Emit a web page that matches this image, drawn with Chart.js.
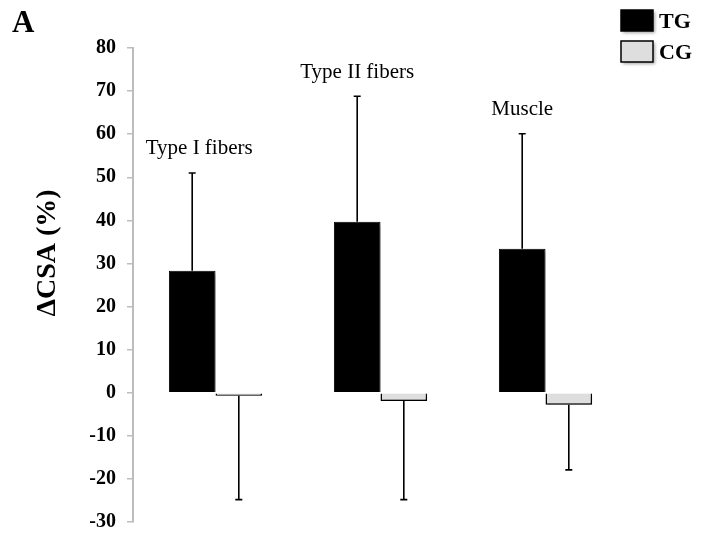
<!DOCTYPE html>
<html><head><meta charset="utf-8">
<script src="https://cdn.jsdelivr.net/npm/chart.js@4.4.1/dist/chart.umd.min.js"></script>
<style>html,body{margin:0;padding:0;background:#fff}#wrap{width:701px;height:542px}</style>
</head><body><div id="wrap"><canvas id="c" width="701" height="542"></canvas></div>
<script>
const categories = ['Type I fibers', 'Type II fibers', 'Muscle'];
const seriesNames = ['TG', 'CG'];
const tgValues = [28.3, 39.7, 33.4];
const cgValues = [-0.7, -1.9, -2.8];
const tgErrorTop = [51.0, 68.8, 60.1];
const cgErrorBottom = [-24.8, -24.8, -17.9];
const yMin = -30, yMax = 80, yStep = 10;
const panelLetter = 'A';
const yTitle = '\u0394CSA (%)';

const SERIF = '"Liberation Serif", "Times New Roman", serif';
const tgColor = '#000000';
const cgColor = '#dedede';
const labelShift = [8, 1, 1];

const decorPlugin = {
  id: 'decor',
  beforeDatasetsDraw(chart) {
    const ctx = chart.ctx;
    ctx.save();
    ctx.shadowColor = 'rgba(0,0,0,0.35)';
    ctx.shadowOffsetX = 2;
    ctx.shadowOffsetY = 2;
    ctx.shadowBlur = 3;
  },
  afterDatasetsDraw(chart) {
    const ctx = chart.ctx;
    ctx.restore();
    const y = chart.scales.y;
    const m0 = chart.getDatasetMeta(0).data;
    const m1 = chart.getDatasetMeta(1).data;
    ctx.save();
    ctx.strokeStyle = '#000';
    ctx.lineWidth = 1.6;
    const cap = 3.5;
    m0.forEach((bar, i) => {
      const yt = y.getPixelForValue(tgErrorTop[i]);
      ctx.beginPath();
      ctx.moveTo(bar.x, bar.y); ctx.lineTo(bar.x, yt);
      ctx.moveTo(bar.x - cap, yt); ctx.lineTo(bar.x + cap, yt);
      ctx.stroke();
    });
    m1.forEach((bar, i) => {
      const yb = y.getPixelForValue(cgErrorBottom[i]);
      ctx.beginPath();
      ctx.moveTo(bar.x, bar.y); ctx.lineTo(bar.x, yb);
      ctx.moveTo(bar.x - cap, yb); ctx.lineTo(bar.x + cap, yb);
      ctx.stroke();
    });
    ctx.fillStyle = '#000';
    ctx.font = '21px ' + SERIF;
    ctx.textAlign = 'center';
    ctx.textBaseline = 'middle';
    m0.forEach((bar, i) => {
      const yt = y.getPixelForValue(tgErrorTop[i]);
      ctx.fillText(categories[i], bar.x + labelShift[i] - 1, yt - 24);
    });
    ctx.restore();
  },
  afterDraw(chart) {
    const ctx = chart.ctx;
    const area = chart.chartArea;
    ctx.save();
    ctx.fillStyle = '#000';
    ctx.font = 'bold 31px ' + SERIF;
    ctx.textAlign = 'left';
    ctx.textBaseline = 'alphabetic';
    ctx.fillText(panelLetter, 12, 32);
    ctx.save();
    ctx.translate(48, (area.top + area.bottom) / 2 - 32);
    ctx.rotate(-Math.PI / 2);
    ctx.font = 'bold 28px ' + SERIF;
    ctx.textAlign = 'center';
    ctx.textBaseline = 'middle';
    ctx.fillText(yTitle, 0, 0);
    ctx.restore();
    const colors = [tgColor, cgColor];
    seriesNames.forEach((name, i) => {
      const ly = 10 + i * 31;
      ctx.save();
      ctx.shadowColor = 'rgba(0,0,0,0.35)';
      ctx.shadowOffsetX = 2; ctx.shadowOffsetY = 2; ctx.shadowBlur = 3;
      ctx.fillStyle = colors[i];
      ctx.fillRect(621, ly, 32, 21);
      ctx.restore();
      ctx.strokeStyle = '#000';
      ctx.lineWidth = 1.5;
      ctx.strokeRect(621, ly, 32, 21);
      ctx.fillStyle = '#000';
      ctx.font = 'bold 22px ' + SERIF;
      ctx.textAlign = 'left';
      ctx.textBaseline = 'middle';
      ctx.fillText(name, 659, ly + 12);
    });
    ctx.restore();
  }
};

new Chart(document.getElementById('c'), {
  type: 'bar',
  data: {
    labels: categories,
    datasets: [
      { label: seriesNames[0], data: tgValues, backgroundColor: tgColor, borderColor: '#000', borderWidth: 1,
        barPercentage: 1, categoryPercentage: 0.565 },
      { label: seriesNames[1], data: cgValues, backgroundColor: cgColor, borderColor: '#000', borderWidth: 1.5,
        barPercentage: 1, categoryPercentage: 0.565 }
    ]
  },
  options: {
    responsive: false,
    animation: false,
    events: [],
    layout: { padding: { top: 48, right: 73, bottom: 20, left: 0 } },
    plugins: { legend: { display: false }, tooltip: { enabled: false }, title: { display: false } },
    scales: {
      x: { display: false },
      y: {
        min: yMin, max: yMax,
        ticks: { stepSize: yStep, color: '#000', padding: 11,
          font: { family: SERIF, weight: 'bold', size: 20 } },
        grid: { drawOnChartArea: false, drawTicks: true, tickLength: 6, color: '#bdbdbd', lineWidth: 1.5 },
        border: { color: '#bdbdbd', width: 2 },
        afterFit(s) { s.width = 133; s.paddingTop = 0; s.paddingBottom = 0; }
      }
    }
  },
  plugins: [decorPlugin]
});
</script></body></html>
